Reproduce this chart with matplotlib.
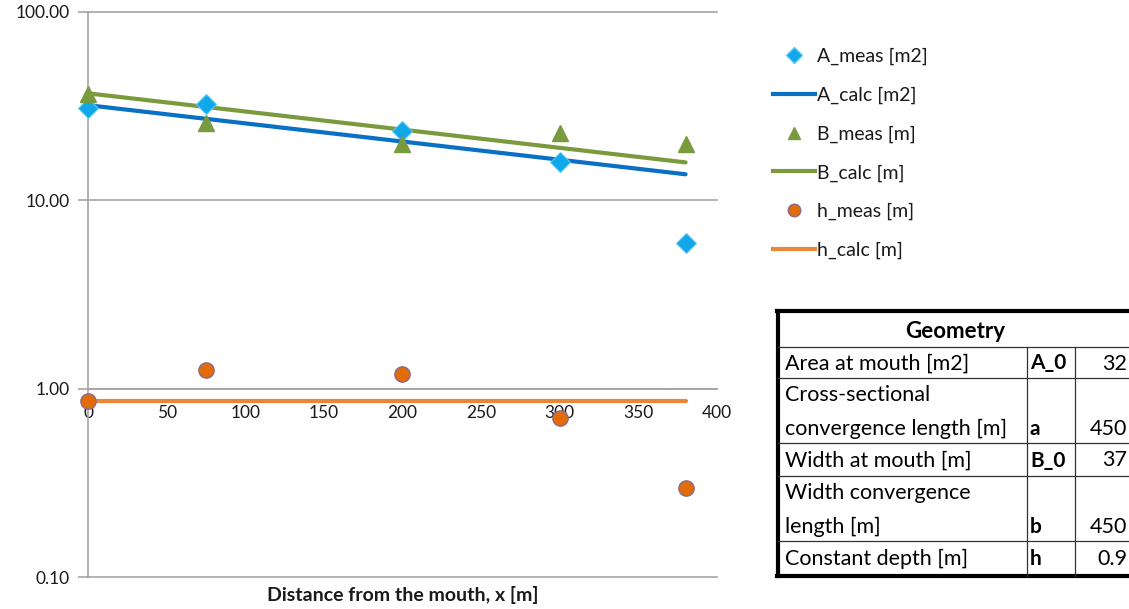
import matplotlib
matplotlib.use("Agg")
import matplotlib.pyplot as plt
from matplotlib.lines import Line2D

plt.rcParams['font.family'] = ['Lato', 'DejaVu Sans']

# ---- data ----
x_meas = [0, 75, 200, 300, 380]
A_meas = [31.0, 32.6, 23.2, 15.9, 5.96]
B_meas = [36.9, 25.8, 19.8, 22.9, 19.8]
h_meas = [0.857, 1.26, 1.19, 0.70, 0.298]

x_calc = [0, 75, 200, 300, 380]
A_calc = [32.0, 27.09, 20.52, 16.43, 13.75]
B_calc = [37.0, 31.32, 23.73, 19.00, 15.90]
h_calc = [0.865, 0.865, 0.865, 0.865, 0.865]

x_ticks = [0, 50, 100, 150, 200, 250, 300, 350, 400]
y_ticks = [0.1, 1, 10, 100]
y_tick_labels = ["0.10", "1.00", "10.00", "100.00"]

table_title = "Geometry"
table_rows = [
    ("Area at mouth [m2]", "A_0", "32"),
    ("Cross-sectional\nconvergence length [m]", "a", "450"),
    ("Width at mouth [m]", "B_0", "37"),
    ("Width convergence\nlength [m]", "b", "450"),
    ("Constant depth [m]", "h", "0.9"),
]

W, H = 1129, 609
fig = plt.figure(figsize=(W / 100, H / 100), dpi=100)

def fx(px):
    return px / W

def fy(py):
    return 1 - py / H

ax_l, ax_r, ax_t, ax_b = 88, 717, 12, 577
ax = fig.add_axes([fx(ax_l), fy(ax_b), fx(ax_r - ax_l), (ax_b - ax_t) / H])
ax.set_yscale('log')
ax.set_xlim(0, 400)
ax.set_ylim(0.1, 100)

grey = '#a6a6a6'
txt = '#1a1a1a'
for v in y_ticks:
    ax.axhline(v, color=grey, lw=1.2, clip_on=False, zorder=1)

c_Ameas = '#10a8e8'
c_Acalc = '#0a70c4'
c_B = '#7a9a3e'
c_hmeas = '#e36c0a'
c_hcalc = '#e8873a'

ax.plot(x_calc, A_calc, color=c_Acalc, lw=3, label='A_calc [m2]', zorder=3, solid_capstyle='round')
ax.plot(x_calc, B_calc, color=c_B, lw=3, label='B_calc [m]', zorder=3, solid_capstyle='round')
ax.plot(x_calc, h_calc, color=c_hcalc, lw=3, label='h_calc [m]', zorder=3, solid_capstyle='round')
ax.plot(x_meas, A_meas, ls='none', marker='D', ms=10, color=c_Ameas, mec='#5ec8f0', mew=0.8,
        label='A_meas [m2]', zorder=4, clip_on=False)
ax.plot(x_meas, B_meas, ls='none', marker='^', ms=12, color=c_B, mec=c_B,
        label='B_meas [m]', zorder=4, clip_on=False)
ax.plot(x_meas, h_meas, ls='none', marker='o', ms=11, color=c_hmeas, mec='#8a6a8a', mew=1,
        label='h_meas [m]', zorder=4, clip_on=False)

# spines
for s in ['top', 'right']:
    ax.spines[s].set_visible(False)
ax.spines['left'].set_color(grey)
ax.spines['left'].set_linewidth(1.2)
ax.spines['bottom'].set_position(('data', 1))
ax.spines['bottom'].set_color(grey)
ax.spines['bottom'].set_linewidth(1.2)

ax.set_yticks(y_ticks)
ax.set_yticklabels(y_tick_labels)
ax.yaxis.set_minor_locator(matplotlib.ticker.NullLocator())
ax.tick_params(axis='y', length=7, width=1.2, color=grey, labelsize=12.5, pad=6, labelcolor=txt)
ax.set_xticks(x_ticks)
ax.set_xticklabels([str(t) for t in x_ticks])
ax.tick_params(axis='x', length=0, labelsize=12.5, pad=12, labelcolor=txt)

fig.text(fx(403), fy(595), "Distance from the mouth, x [m]", ha='center', va='center',
         fontsize=14, fontweight='bold', color=txt)

# legend
handles = [
    Line2D([], [], ls='none', marker='D', ms=8, color=c_Ameas, mec='#5ec8f0'),
    Line2D([], [], color=c_Acalc, lw=3),
    Line2D([], [], ls='none', marker='^', ms=9, color=c_B),
    Line2D([], [], color=c_B, lw=3),
    Line2D([], [], ls='none', marker='o', ms=9, color=c_hmeas, mec='#8a6a8a'),
    Line2D([], [], color=c_hcalc, lw=3),
]
labels = ['A_meas [m2]', 'A_calc [m2]', 'B_meas [m]', 'B_calc [m]', 'h_meas [m]', 'h_calc [m]']
fig.legend(handles, labels, loc='upper left', bbox_to_anchor=(fx(773), fy(48)),
           frameon=False, fontsize=14, handlelength=2.15, handletextpad=0.12,
           labelspacing=1.1, borderaxespad=0, borderpad=0, labelcolor=txt)

# table
tl, tr, tt, tb = 778, 1129, 311, 576
c1, c2 = 1027, 1075
row_lines = [347, 378, 443, 476, 541]
def hline(y, x0, x1, lw, color='black'):
    fig.add_artist(Line2D([fx(x0), fx(x1)], [fy(y), fy(y)], color=color, lw=lw,
                          transform=fig.transFigure))
def vline(x, y0, y1, lw, color='black'):
    fig.add_artist(Line2D([fx(x), fx(x)], [fy(y0), fy(y1)], color=color, lw=lw,
                          transform=fig.transFigure))

hline(tt, tl - 1, tr, 3)
hline(tb, tl - 1, tr, 3)
vline(tl, tt, tb, 3)
for y in row_lines:
    hline(y, tl, tr, 0.9, '#333333')
vline(c1, row_lines[0], tb, 0.9, '#333333')
vline(c2, row_lines[0], tb, 0.9, '#333333')

fig.text(fx((tl + tr) / 2 + 2), fy(331), table_title, ha='center', va='center',
         fontsize=16, fontweight='bold', color='black')
bounds = [347, 378, 443, 476, 541, 575]
for i, (name, sym, val) in enumerate(table_rows):
    y0, y1 = bounds[i], bounds[i + 1]
    lines = name.split('\n')
    if len(lines) == 1:
        ys = [(y0 + y1) / 2 + 1]
    else:
        ys = [y0 + 17, y1 - 14]
    for ln, yy in zip(lines, ys):
        fig.text(fx(785), fy(yy), ln, ha='left', va='center', fontsize=15.5, color='black')
    fig.text(fx(c1 + 3), fy(ys[-1]), sym, ha='left', va='center', fontsize=15,
             fontweight='bold', color='black')
    fig.text(fx(1127), fy(ys[-1]), val, ha='right', va='center', fontsize=15.5, color='black')

fig.savefig('out.png', dpi=100)
